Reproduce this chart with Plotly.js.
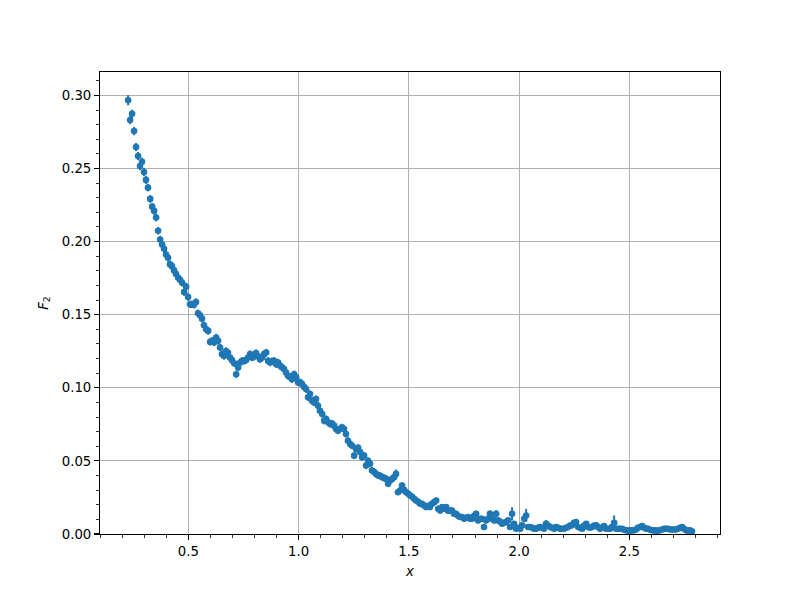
<!DOCTYPE html>
<html>
<head>
<meta charset="utf-8">
<script src="https://cdn.plot.ly/plotly-3.0.1.min.js"></script>
<style>html,body{margin:0;padding:0;background:#fff}#chart{width:800px;height:600px}</style>
</head>
<body>
<div id="chart"></div>
<script>
var xValues = [
0.227,0.236,0.245,0.254,0.263,0.272,0.281,0.290,0.299,0.308,
0.317,0.327,0.336,0.345,0.354,0.363,0.372,0.381,0.390,0.399,
0.408,0.417,0.426,0.435,0.444,0.454,0.463,0.472,0.481,0.490,
0.499,0.508,0.517,0.526,0.535,0.544,0.553,0.562,0.571,0.581,
0.590,0.599,0.608,0.617,0.626,0.635,0.644,0.653,0.662,0.671,
0.680,0.689,0.698,0.708,0.717,0.726,0.735,0.744,0.753,0.762,
0.771,0.780,0.789,0.798,0.807,0.816,0.825,0.835,0.844,0.853,
0.862,0.871,0.880,0.889,0.898,0.907,0.916,0.925,0.934,0.943,
0.952,0.961,0.970,0.980,0.989,0.998,1.007,1.016,1.025,1.034,
1.043,1.052,1.061,1.070,1.079,1.088,1.097,1.107,1.116,1.125,
1.134,1.143,1.152,1.161,1.170,1.179,1.188,1.197,1.206,1.215,
1.224,1.234,1.243,1.252,1.261,1.270,1.279,1.288,1.297,1.306,
1.315,1.324,1.333,1.342,1.351,1.361,1.370,1.379,1.388,1.397,
1.406,1.415,1.424,1.433,1.442,1.451,1.460,1.469,1.478,1.488,
1.497,1.506,1.515,1.524,1.533,1.542,1.551,1.560,1.569,1.578,
1.587,1.596,1.605,1.615,1.624,1.633,1.642,1.651,1.660,1.669,
1.678,1.687,1.696,1.705,1.714,1.723,1.732,1.741,1.751,1.760,
1.769,1.778,1.787,1.796,1.805,1.814,1.823,1.832,1.841,1.850,
1.859,1.868,1.878,1.887,1.896,1.905,1.914,1.923,1.932,1.941,
1.950,1.959,1.968,1.977,1.986,1.995,2.005,2.014,2.023,2.032,
2.041,2.050,2.059,2.068,2.077,2.086,2.095,2.104,2.113,2.122,
2.131,2.141,2.150,2.159,2.168,2.177,2.186,2.195,2.204,2.213,
2.222,2.231,2.240,2.249,2.258,2.268,2.277,2.286,2.295,2.304,
2.313,2.322,2.331,2.340,2.349,2.358,2.367,2.376,2.385,2.395,
2.404,2.413,2.422,2.431,2.440,2.449,2.458,2.467,2.476,2.485,
2.494,2.503,2.512,2.521,2.530,2.539,2.548,2.558,2.567,2.576,
2.585,2.594,2.603,2.612,2.621,2.630,2.639,2.648,2.657,2.666,
2.675,2.685,2.694,2.703,2.712,2.721,2.730,2.739,2.748,2.757,
2.766,2.775,2.784
];
var f2Values = [
0.2967,0.2831,0.2874,0.2756,0.2647,0.2585,0.2517,0.2546,0.2476,0.2422,
0.2369,0.2292,0.2239,0.2210,0.2164,0.2074,0.2014,0.1980,0.1951,0.1912,
0.1889,0.1844,0.1832,0.1803,0.1779,0.1753,0.1737,0.1719,0.1655,0.1692,
0.1621,0.1571,0.1571,0.1568,0.1587,0.1510,0.1496,0.1473,0.1428,0.1400,
0.1389,0.1314,0.1321,0.1310,0.1344,0.1321,0.1276,0.1230,0.1218,0.1252,
0.1240,0.1207,0.1189,0.1168,0.1093,0.1139,0.1173,0.1184,0.1184,0.1190,
0.1207,0.1230,0.1207,0.1212,0.1237,0.1218,0.1196,0.1207,0.1230,0.1241,
0.1184,0.1173,0.1182,0.1184,0.1162,0.1173,0.1150,0.1141,0.1128,0.1105,
0.1082,0.1073,0.1059,0.1093,0.1071,0.1037,0.1037,0.1025,0.1005,0.0991,
0.0935,0.0957,0.0911,0.0900,0.0923,0.0877,0.0843,0.0821,0.0775,0.0786,
0.0764,0.0752,0.0755,0.0741,0.0718,0.0707,0.0718,0.0730,0.0718,0.0684,
0.0638,0.0616,0.0604,0.0536,0.0582,0.0590,0.0561,0.0525,0.0536,0.0468,
0.0500,0.0480,0.0434,0.0425,0.0411,0.0400,0.0398,0.0389,0.0384,0.0377,
0.0343,0.0366,0.0377,0.0389,0.0411,0.0286,0.0297,0.0332,0.0302,0.0286,
0.0275,0.0263,0.0254,0.0241,0.0229,0.0220,0.0207,0.0207,0.0195,0.0184,
0.0193,0.0184,0.0207,0.0218,0.0229,0.0173,0.0161,0.0184,0.0173,0.0184,
0.0159,0.0161,0.0161,0.0138,0.0138,0.0125,0.0116,0.0116,0.0104,0.0111,
0.0116,0.0104,0.0104,0.0125,0.0138,0.0093,0.0104,0.0104,0.0048,0.0093,
0.0104,0.0138,0.0104,0.0093,0.0138,0.0093,0.0084,0.0070,0.0077,0.0082,
0.0093,0.0048,0.0138,0.0070,0.0036,0.0043,0.0036,0.0059,0.0104,0.0127,
0.0048,0.0048,0.0043,0.0036,0.0036,0.0043,0.0048,0.0043,0.0036,0.0070,
0.0057,0.0048,0.0043,0.0036,0.0048,0.0043,0.0036,0.0036,0.0036,0.0043,
0.0048,0.0057,0.0059,0.0077,0.0082,0.0048,0.0043,0.0036,0.0057,0.0070,
0.0048,0.0043,0.0048,0.0057,0.0059,0.0048,0.0036,0.0043,0.0055,0.0036,
0.0036,0.0036,0.0050,0.0077,0.0036,0.0036,0.0036,0.0036,0.0029,0.0025,
0.0023,0.0023,0.0025,0.0025,0.0031,0.0043,0.0048,0.0055,0.0043,0.0036,
0.0036,0.0029,0.0025,0.0025,0.0023,0.0023,0.0026,0.0031,0.0036,0.0036,
0.0036,0.0031,0.0031,0.0031,0.0031,0.0036,0.0043,0.0048,0.0036,0.0025,
0.0023,0.0025,0.0018
];
var f2Errors = [
0.0035,0.0028,0.0028,0.0028,0.0028,0.0028,0.0028,0.0028,0.0028,0.0028,
0.0026,0.0026,0.0026,0.0026,0.0026,0.0026,0.0026,0.0026,0.0026,0.0026,
0.0026,0.0026,0.0026,0.0026,0.0026,0.0026,0.0026,0.0026,0.0026,0.0026,
0.0026,0.0025,0.0025,0.0025,0.0025,0.0025,0.0025,0.0025,0.0025,0.0025,
0.0025,0.0025,0.0025,0.0025,0.0025,0.0025,0.0025,0.0025,0.0025,0.0025,
0.0025,0.0025,0.0025,0.0025,0.0025,0.0025,0.0025,0.0025,0.0025,0.0025,
0.0025,0.0025,0.0025,0.0025,0.0025,0.0025,0.0025,0.0025,0.0025,0.0025,
0.0025,0.0025,0.0025,0.0025,0.0025,0.0025,0.0025,0.0025,0.0025,0.0025,
0.0025,0.0025,0.0025,0.0025,0.0025,0.0025,0.0025,0.0025,0.0025,0.0025,
0.0025,0.0025,0.0025,0.0025,0.0025,0.0025,0.0025,0.0025,0.0025,0.0025,
0.0024,0.0024,0.0024,0.0024,0.0024,0.0024,0.0024,0.0024,0.0024,0.0024,
0.0024,0.0024,0.0024,0.0024,0.0024,0.0024,0.0024,0.0024,0.0024,0.0024,
0.0024,0.0024,0.0024,0.0024,0.0024,0.0024,0.0024,0.0024,0.0024,0.0024,
0.0020,0.0020,0.0020,0.0020,0.0030,0.0020,0.0020,0.0020,0.0020,0.0020,
0.0020,0.0020,0.0020,0.0020,0.0020,0.0020,0.0020,0.0020,0.0020,0.0020,
0.0020,0.0020,0.0020,0.0020,0.0020,0.0020,0.0020,0.0020,0.0020,0.0020,
0.0020,0.0020,0.0020,0.0020,0.0020,0.0020,0.0020,0.0020,0.0020,0.0020,
0.0020,0.0020,0.0020,0.0020,0.0022,0.0020,0.0020,0.0020,0.0020,0.0020,
0.0020,0.0024,0.0020,0.0020,0.0024,0.0020,0.0020,0.0020,0.0020,0.0020,
0.0016,0.0016,0.0045,0.0016,0.0016,0.0016,0.0016,0.0016,0.0016,0.0045,
0.0016,0.0016,0.0016,0.0016,0.0016,0.0016,0.0016,0.0016,0.0016,0.0025,
0.0016,0.0016,0.0016,0.0016,0.0016,0.0016,0.0016,0.0016,0.0016,0.0016,
0.0016,0.0016,0.0016,0.0016,0.0016,0.0016,0.0016,0.0016,0.0016,0.0016,
0.0016,0.0016,0.0016,0.0016,0.0016,0.0016,0.0016,0.0016,0.0016,0.0016,
0.0016,0.0016,0.0016,0.0050,0.0016,0.0016,0.0016,0.0016,0.0016,0.0016,
0.0016,0.0016,0.0016,0.0016,0.0016,0.0016,0.0016,0.0016,0.0016,0.0016,
0.0016,0.0016,0.0016,0.0016,0.0016,0.0016,0.0016,0.0016,0.0016,0.0016,
0.0016,0.0016,0.0016,0.0016,0.0016,0.0016,0.0016,0.0016,0.0016,0.0016,
0.0016,0.0016,0.0016
];
var xTickVals = [0.5, 1.0, 1.5, 2.0, 2.5];
var xTickText = ['0.5', '1.0', '1.5', '2.0', '2.5'];
var yTickVals = [0.00, 0.05, 0.10, 0.15, 0.20, 0.25, 0.30];
var yTickText = ['0.00', '0.05', '0.10', '0.15', '0.20', '0.25', '0.30'];

var blue = '#1f77b4';
var trace = {
  x: xValues,
  y: f2Values,
  type: 'scatter',
  mode: 'markers',
  marker: {color: blue, size: 6.6, line: {width: 0}},
  error_y: {type: 'data', array: f2Errors, visible: true, color: blue, thickness: 2, width: 0},
  hoverinfo: 'x+y'
};
var font = {family: 'DejaVu Sans, sans-serif', size: 13.3, color: '#000'};
var axisCommon = {
  showline: true, mirror: true, linecolor: '#000', linewidth: 1.1,
  ticks: 'outside', ticklen: 4.9, tickwidth: 1.1, tickcolor: '#000',
  showgrid: true, gridcolor: '#b0b0b0', gridwidth: 1.1,
  zeroline: false, tickfont: font
};
var layout = {
  width: 800, height: 600,
  margin: {l: 100, r: 80, t: 72, b: 66},
  paper_bgcolor: '#fff', plot_bgcolor: '#fff',
  showlegend: false,
  font: font,
  xaxis: Object.assign({}, axisCommon, {
    range: [0.0995, 2.911],
    tickmode: 'array', tickvals: xTickVals, ticktext: xTickText,
    minor: {ticks: 'outside', ticklen: 2.8, tickwidth: 0.8, tickcolor: '#000', dtick: 0.1, tick0: 0, showgrid: false},
    title: {text: '<i>x</i>', font: font, standoff: 8}
  }),
  yaxis: Object.assign({}, axisCommon, {
    range: [0, 0.316],
    tickmode: 'array', tickvals: yTickVals, ticktext: yTickText,
    minor: {ticks: 'outside', ticklen: 2.8, tickwidth: 0.8, tickcolor: '#000', dtick: 0.01, tick0: 0, showgrid: false},
    title: {text: '<i>F</i><sub>2</sub>', font: font, standoff: 10}
  })
};
Plotly.newPlot('chart', [trace], layout, {staticPlot: true, displayModeBar: false});
</script>
</body>
</html>
